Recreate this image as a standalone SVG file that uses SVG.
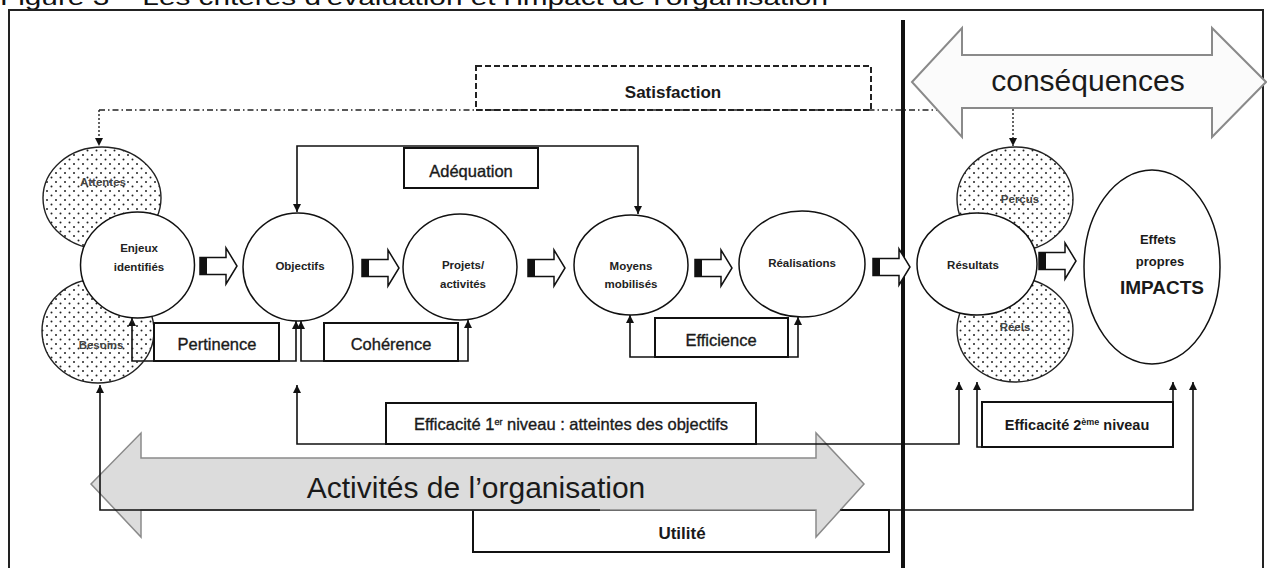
<svg xmlns="http://www.w3.org/2000/svg" width="1267" height="568" viewBox="0 0 1267 568">
  <style>
    .ln{fill:none;stroke:#111;stroke-width:1.6}
    .dd{fill:none;stroke:#222;stroke-width:1.6;stroke-dasharray:6 3 1.5 3}
    .dt{fill:none;stroke:#222;stroke-width:1.4;stroke-dasharray:2 2}
    .box{fill:#fff;stroke:#111;stroke-width:2}
    .ell{fill:#fff;stroke:#111;stroke-width:1.5}
    .dotc{fill:url(#dots);stroke:#222;stroke-width:1.4}
    .lbl{font-family:"Liberation Sans",Arial,sans-serif;font-weight:bold;font-size:11.5px;fill:#222;text-anchor:middle}
    .grey{fill:#444}
    .crit{font-family:"Liberation Sans",Arial,sans-serif;font-size:16.5px;fill:#1a1a1a;stroke:#1a1a1a;stroke-width:0.35;text-anchor:middle}
    .critb{font-family:"Liberation Sans",Arial,sans-serif;font-weight:bold;fill:#1a1a1a;text-anchor:middle}
    .big{font-family:"Liberation Sans",Arial,sans-serif;font-size:30px;fill:#1a1a1a;text-anchor:middle}
  </style>
  <defs>
    <pattern id="dots" width="9" height="9" patternUnits="userSpaceOnUse">
      <circle cx="2" cy="2" r="1" fill="#222"/>
      <circle cx="6.5" cy="6.5" r="1" fill="#222"/>
    </pattern>
    <marker id="ah" viewBox="0 0 10 10" refX="10" refY="5" markerWidth="8" markerHeight="8" markerUnits="userSpaceOnUse" orient="auto">
      <path d="M0,0 L10,5 L0,10 z" fill="#111"/>
    </marker>
    <!-- block arrow used between the stages -->
    <g id="blk">
      <path d="M0,-8.5 H26 V-18 L37,0 L26,18 V8.5 H0 Z" fill="#fff" stroke="#111" stroke-width="1.5"/>
      <rect x="0" y="-8.5" width="7" height="17" fill="#111"/>
    </g>
  </defs>

  <rect width="1267" height="568" fill="#fff"/>

  <!-- caption line, cut by the top edge -->
  <text x="0" y="5" font-family="'Liberation Sans',Arial,sans-serif" font-size="22" fill="#111" textLength="828" lengthAdjust="spacingAndGlyphs">Figure 3 – Les critères d'évaluation et l'impact de l'organisation</text>

  <!-- frame and divider -->
  <rect x="9" y="10" width="1254" height="600" fill="none" stroke="#222" stroke-width="2"/>
  <line x1="903" y1="20" x2="903" y2="568" stroke="#111" stroke-width="4"/>

  <!-- Utilité box (under the big arrow) -->
  <g id="utilite">
    <rect class="box" x="473" y="510" width="416" height="42"/>
    <text class="critb" x="682" y="539" font-size="17">Utilité</text>
  </g>

  <!-- big double arrow: organisation activities -->
  <g id="activites">
    <polygon points="91,484 141,433 141,458 816,458 816,433 864,484 816,537 816,510 141,510 141,537" fill="#dcdcdc" stroke="#8a8a8a" stroke-width="1.5"/>
    <text class="big" x="476" y="498">Activités de l’organisation</text>
  </g>

  <!-- connectors -->
  <g id="connectors">
    <!-- satisfaction -->
    <path class="dd" d="M99,110 H940"/>
    <path class="dt" d="M99,110 V146" marker-end="url(#ah)"/>
    <path class="dt" d="M1013,109 V146" marker-end="url(#ah)"/>
    <!-- adéquation -->
    <path class="ln" d="M467,146 H297 V212" marker-end="url(#ah)"/>
    <path class="ln" d="M467,146 H638 V214" marker-end="url(#ah)"/>
    <!-- pertinence -->
    <path class="ln" d="M215,361 H132 V318" marker-end="url(#ah)"/>
    <path class="ln" d="M215,361 H296 V321" marker-end="url(#ah)"/>
    <!-- cohérence -->
    <path class="ln" d="M384,361 H301 V321" marker-end="url(#ah)"/>
    <path class="ln" d="M384,361 H468 V320" marker-end="url(#ah)"/>
    <!-- efficience -->
    <path class="ln" d="M714,357 H630 V315" marker-end="url(#ah)"/>
    <path class="ln" d="M714,357 H798 V317" marker-end="url(#ah)"/>
    <!-- efficacité 1er niveau -->
    <path class="ln" d="M600,444 H297 V385" marker-end="url(#ah)"/>
    <path class="ln" d="M600,444 H959 V382" marker-end="url(#ah)"/>
    <!-- efficacité 2e niveau -->
    <path class="ln" d="M1075,447 H977 V382" marker-end="url(#ah)"/>
    <path class="ln" d="M1075,447 H1173 V382" marker-end="url(#ah)"/>
    <!-- utilité -->
    <path class="ln" d="M600,510 H100 V385" marker-end="url(#ah)"/>
    <path class="ln" d="M840,510 H1193 V382" marker-end="url(#ah)"/>
    <!-- stage arrows -->
    <use href="#blk" x="200" y="266"/>
    <use href="#blk" x="362" y="268"/>
    <use href="#blk" x="528" y="268"/>
    <use href="#blk" x="695" y="268"/>
    <use href="#blk" x="873" y="267"/>
    <use href="#blk" x="1039" y="261"/>
  </g>

  <!-- big double arrow: consequences -->
  <g id="consequences">
    <polygon points="912,82 962,28 962,55 1212,55 1212,28 1266,82 1212,137 1212,108 962,108 962,137" fill="#fbfbfb" stroke="#8a8a8a" stroke-width="2"/>
    <text class="big" x="1088" y="91">conséquences</text>
  </g>

  <g id="satisfaction">
    <rect x="476" y="66" width="395" height="44" fill="none" stroke="#222" stroke-width="2" stroke-dasharray="6 3"/>
    <text class="critb" x="673" y="98" font-size="17">Satisfaction</text>
  </g>

  <g id="adequation">
    <rect class="box" x="404" y="148" width="134" height="40"/>
    <text class="crit" x="471" y="177">Adéquation</text>
  </g>

  <g id="attentes">
    <ellipse class="dotc" cx="102" cy="198" rx="59" ry="51"/>
    <text class="lbl grey" x="103" y="186">Attentes</text>
  </g>
  <g id="besoins">
    <ellipse class="dotc" cx="98" cy="331" rx="56" ry="52"/>
    <text class="lbl grey" x="101" y="349">Besoins</text>
  </g>
  <g id="enjeux">
    <ellipse class="ell" cx="137.5" cy="265" rx="57" ry="53"/>
    <text class="lbl" x="139" y="252">Enjeux</text>
    <text class="lbl" x="139" y="271">identifiés</text>
  </g>

  <g id="objectifs">
    <ellipse class="ell" cx="298" cy="267" rx="55" ry="54"/>
    <text class="lbl" x="300" y="270">Objectifs</text>
  </g>
  <g id="projets">
    <ellipse class="ell" cx="460" cy="267" rx="57" ry="53"/>
    <text class="lbl" x="463" y="269">Projets/</text>
    <text class="lbl" x="463" y="288">activités</text>
  </g>
  <g id="moyens">
    <ellipse class="ell" cx="631" cy="265" rx="57" ry="50"/>
    <text class="lbl" x="631" y="270">Moyens</text>
    <text class="lbl" x="631" y="288">mobilisés</text>
  </g>
  <g id="realisations">
    <ellipse class="ell" cx="802" cy="264" rx="63" ry="53"/>
    <text class="lbl" x="802" y="267">Réalisations</text>
  </g>

  <g id="percus">
    <ellipse class="dotc" cx="1015" cy="199" rx="58" ry="52"/>
    <text class="lbl grey" x="1020" y="203">Perçus</text>
  </g>
  <g id="reels">
    <ellipse class="dotc" cx="1015" cy="330" rx="58" ry="52"/>
    <text class="lbl grey" x="1015" y="331">Réels</text>
  </g>
  <g id="resultats">
    <ellipse class="ell" cx="977" cy="264" rx="60" ry="51"/>
    <text class="lbl" x="973" y="269">Résultats</text>
  </g>
  <g id="impacts">
    <ellipse class="ell" cx="1152" cy="267" rx="68" ry="97"/>
    <text class="critb" x="1158" y="244" font-size="13">Effets</text>
    <text class="critb" x="1160" y="266" font-size="13">propres</text>
    <text class="critb" x="1162" y="294" font-size="19">IMPACTS</text>
  </g>

  <g id="pertinence">
    <rect class="box" x="154" y="323" width="125" height="38"/>
    <text class="crit" x="217" y="350">Pertinence</text>
  </g>
  <g id="coherence">
    <rect class="box" x="324" y="323" width="134" height="38"/>
    <text class="crit" x="391" y="350">Cohérence</text>
  </g>
  <g id="efficience">
    <rect class="box" x="655" y="318" width="133" height="39"/>
    <text class="crit" x="721" y="346">Efficience</text>
  </g>
  <g id="efficacite1">
    <rect class="box" x="386" y="403" width="370" height="41"/>
    <text class="crit" x="571" y="430" font-size="14.5" stroke-width="0.25">Efficacité 1<tspan font-size="9" dy="-5">er</tspan><tspan dy="5"> niveau : atteintes des objectifs</tspan></text>
  </g>
  <g id="efficacite2">
    <rect class="box" x="982" y="402" width="191" height="45"/>
    <text class="critb" x="1077" y="430" font-size="14.5">Efficacité 2<tspan font-size="9" dy="-5">ème</tspan><tspan dy="5"> niveau</tspan></text>
  </g>
</svg>
